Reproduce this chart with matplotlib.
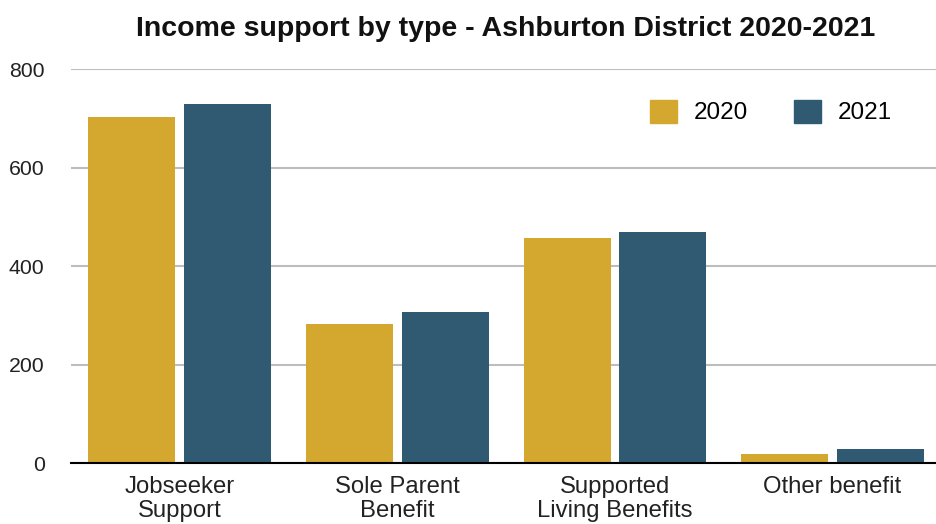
import matplotlib
matplotlib.use("Agg")
import matplotlib.pyplot as plt
from matplotlib.patches import Patch
import numpy as np

categories = ["Jobseeker\nSupport", "Sole Parent\nBenefit", "Supported\nLiving Benefits", "Other benefit"]
values_2020 = [704, 282, 458, 19]
values_2021 = [730, 307, 469, 30]
series_names = ["2020", "2021"]
yticks = [0, 200, 400, 600, 800]

c2020 = "#D4A82F"
c2021 = "#2F5A72"

plt.rcParams['font.family'] = ['Liberation Sans', 'DejaVu Sans']

W, H = 937, 524
fig = plt.figure(figsize=(W/100, H/100), dpi=100)
ax = fig.add_axes([71/W, 1-463.3/H, (937-71)/W, (463.3-69.3)/H])

x = np.arange(len(categories))
bw = 0.40
off = 0.22
ax.bar(x - off, values_2020, bw, color=c2020, zorder=3)
ax.bar(x + off, values_2021, bw, color=c2021, zorder=3)

ax.set_xlim(-0.5, 3.48)
ax.set_ylim(0, 800)
ax.set_yticks(yticks)
ax.set_yticklabels([str(t) for t in yticks], fontsize=15.3, color="#222222")
ax.yaxis.grid(True, color="#BDBDBD", linewidth=1.5, zorder=0)
ax.set_xticks(x)
ax.set_xticklabels(categories, fontsize=17.2, color="#222222", linespacing=1.15)
ax.tick_params(axis='y', length=0, pad=19)
ax.tick_params(axis='x', length=0, pad=9)
for s in ["top", "right", "left"]:
    ax.spines[s].set_visible(False)
ax.spines["bottom"].set_color("black")
ax.spines["bottom"].set_linewidth(1.5)
ax.spines["bottom"].set_zorder(4)

fig.text(506/W, 1-28.5/H, "Income support by type - Ashburton District 2020-2021",
         ha="center", va="center", fontsize=20.5, fontweight="bold", color="#111111")

handles = [Patch(color=c2020, label=series_names[0]), Patch(color=c2021, label=series_names[1])]
fig.legend(handles=handles, loc="center left", bbox_to_anchor=(650/W, 1-112/H),
           ncol=2, frameon=False, fontsize=17.5, handlelength=1.1, handleheight=1.1,
           handletextpad=0.7, columnspacing=1.9, borderpad=0, borderaxespad=0)

fig.savefig("out.png", dpi=100)
